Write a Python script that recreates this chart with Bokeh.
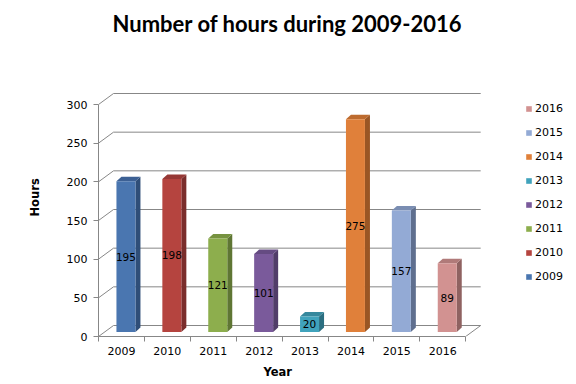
from bokeh.plotting import figure
from bokeh.models import Range1d, FixedTicker, Legend, LegendItem, ColumnDataSource, Title
from bokeh.embed import file_html
from bokeh.resources import INLINE

# ---- data ----
years = ["2009", "2010", "2011", "2012", "2013", "2014", "2015", "2016"]
hours = [195, 198, 121, 101, 20, 275, 157, 89]
front_colors = ["#4A76B0", "#B5443F", "#8DAE4D", "#7A5A9B", "#40A3BC", "#E0803A", "#93AAD5", "#D29291"]
side_colors = ["#2F4E78", "#7A2D2B", "#5F7634", "#513D69", "#2B6E80", "#9A5624", "#5F6F8F", "#8F6261"]
top_colors = ["#3C6094", "#963835", "#769240", "#654B82", "#36889D", "#BD6B2F", "#7A8DB2", "#B07A79"]
y_ticks = [0, 50, 100, 150, 200, 250, 300]

# ---- geometry (pixel styling converted to data units) ----
PX_X = 45.9
PX_Y = 232 / 300
W, H = 576, 384
LEFT, TOP, BOTTOM = 98, 88, 48
frame_w = W - LEFT
frame_h = H - TOP - BOTTOM
x_end = frame_w / PX_X
y_end = frame_h / PX_Y

DX, DY = 15 / PX_X, 11 / PX_Y      # wall depth
BOX, BOY = 4.5 / PX_X, 4.5 / PX_Y  # bar depth offset
BW = 19 / PX_X                      # bar width
SDX, SDY = 5 / PX_X, 4.5 / PX_Y     # bar thickness
GRID = "#878787"
n = len(years)

p = figure(width=W, height=H, x_range=Range1d(0, x_end), y_range=Range1d(0, y_end),
           output_backend="svg", toolbar_location=None, title_location=None,
           min_border_left=LEFT, min_border_right=0, min_border_top=TOP, min_border_bottom=BOTTOM)
p.outline_line_color = None
p.xgrid.visible = False
p.ygrid.visible = False

# walls / gridlines
nt = len(y_ticks)
p.segment(x0=[0] * nt, y0=y_ticks, x1=[DX] * nt, y1=[t + DY for t in y_ticks], line_color=GRID, line_width=1)
p.segment(x0=[DX] * nt, y0=[t + DY for t in y_ticks], x1=[n + DX] * nt, y1=[t + DY for t in y_ticks],
          line_color=GRID, line_width=1)
p.segment(x0=[n], y0=[0], x1=[n + DX], y1=[DY], line_color=GRID, line_width=1)

# bars
cx = [i + 0.5 + BOX for i in range(n)]
lefts = [c - BW / 2 for c in cx]
rights = [c + BW / 2 for c in cx]
bots = [BOY] * n
tops = [BOY + h for h in hours]

side_xs = [[r, r + SDX, r + SDX, r] for r in rights]
side_ys = [[b, b + SDY, t + SDY, t] for b, t in zip(bots, tops)]
top_xs = [[l, r, r + SDX, l + SDX] for l, r in zip(lefts, rights)]
top_ys = [[t, t, t + SDY, t + SDY] for t in tops]

p.patches(xs=side_xs, ys=side_ys, fill_color=side_colors, line_color=None)
p.patches(xs=top_xs, ys=top_ys, fill_color=top_colors, line_color=None)
src = ColumnDataSource(dict(left=lefts, right=rights, bottom=bots, top=tops, color=front_colors,
                            cx=cx, my=[BOY + h / 2 for h in hours], lab=[str(h) for h in hours]))
front = p.quad(left="left", right="right", bottom="bottom", top="top", fill_color="color",
               line_color=None, source=src)
p.text(x="cx", y="my", text="lab", source=src, text_align="center", text_baseline="middle",
       text_font_size="10.5px", text_color="#000000", text_font={"value": "DejaVu Sans"})

# axes
p.xaxis.ticker = FixedTicker(ticks=[i + 0.5 for i in range(n)], minor_ticks=list(range(n + 1)))
p.xaxis.major_label_overrides = {i + 0.5: y for i, y in enumerate(years)}
p.xaxis.bounds = (0, n)
p.xaxis.major_tick_line_color = None
p.xaxis.major_tick_out = 0
p.xaxis.major_tick_in = 0
p.xaxis.minor_tick_out = 5
p.xaxis.minor_tick_in = 0
p.xaxis.minor_tick_line_color = GRID
p.xaxis.major_label_standoff = 5

p.yaxis.ticker = FixedTicker(ticks=y_ticks)
p.yaxis.bounds = (0, 300)
p.yaxis.minor_tick_line_color = None
p.yaxis.major_tick_out = 5
p.yaxis.major_tick_in = 0
p.yaxis.major_tick_line_color = GRID
p.yaxis.major_label_standoff = 6

for ax in (p.xaxis, p.yaxis):
    ax.axis_line_color = GRID
    ax.major_label_text_font = "DejaVu Sans"
    ax.major_label_text_font_size = "11px"
    ax.major_label_text_color = "#000000"

# axis titles and chart title (as Title annotations in the side panels)
lab_style = dict(text_font="DejaVu Sans", text_font_size="11.5px", text_font_style="bold",
                 text_color="#000000", align="left")
p.add_layout(Title(text="Year", offset=165, vertical_align="bottom", standoff=10, **lab_style), "below")
p.add_layout(Title(text="Hours", offset=120, vertical_align="bottom", standoff=44, **lab_style), "left")
p.add_layout(Title(text=" ", text_font_size="1px", standoff=49), "above")
p.add_layout(Title(text="Number of hours during 2009-2016", text_font="Lato", text_font_style="bold",
                   text_font_size="22px", text_color="#000000", align="left", offset=14,
                   vertical_align="bottom", standoff=0), "above")

# legend
items = [LegendItem(label=years[i], renderers=[front], index=i) for i in reversed(range(n))]
legend = Legend(items=items, location=(427, 52), glyph_width=7, glyph_height=7, label_height=16,
                spacing=8, padding=0, margin=0, border_line_color=None, background_fill_alpha=0,
                label_text_font="DejaVu Sans", label_text_font_size="11px", label_standoff=3,
                label_text_color="#000000")
p.add_layout(legend)

open("out.html", "w").write(file_html(p, INLINE))
